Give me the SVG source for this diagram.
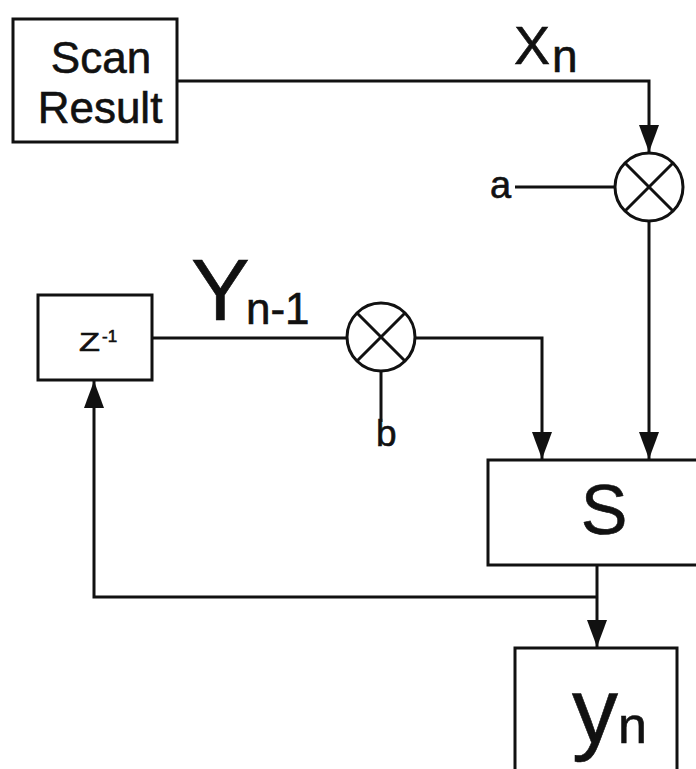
<svg xmlns="http://www.w3.org/2000/svg" width="696" height="769" viewBox="0 0 696 769">
<style>
.box{fill:#fff;stroke:#111;stroke-width:3}
.ln{fill:none;stroke:#111;stroke-width:3}
.t{font-family:"Liberation Sans",Arial,sans-serif;fill:#111;stroke:#111;stroke-width:0.6}
</style>
<defs>
<marker id="ar" markerUnits="userSpaceOnUse" markerWidth="28" markerHeight="22" refX="27" refY="10" orient="auto" viewBox="0 0 28 20">
<path d="M0,0 L27,10 L0,20 z" fill="#111"/>
</marker>
</defs>
<rect width="696" height="769" fill="#fff"/>
<g id="connectors">
<polyline class="ln" points="177,81 649,81 649,152" marker-end="url(#ar)"/>
<line class="ln" x1="515" y1="187" x2="615" y2="187"/>
<line class="ln" x1="649" y1="221" x2="649" y2="459" marker-end="url(#ar)"/>
<line class="ln" x1="152" y1="338" x2="347" y2="338"/>
<polyline class="ln" points="415,338 542,338 542,459" marker-end="url(#ar)"/>
<line class="ln" x1="381" y1="371" x2="381" y2="422"/>
<line class="ln" x1="597" y1="565" x2="597" y2="647" marker-end="url(#ar)"/>
<polyline class="ln" points="597,597 94,597 94,381" marker-end="url(#ar)"/>
</g>
<g id="scan">
<rect class="box" x="13" y="19" width="164" height="123"/>
<text class="t" x="101" y="73" font-size="44" text-anchor="middle">Scan</text>
<text class="t" x="100" y="123" font-size="44" text-anchor="middle">Result</text>
</g>
<g id="xn-label">
<text class="t" x="514" y="64" font-size="54">X</text>
<text class="t" x="552" y="72" font-size="46">n</text>
</g>
<g id="mult1">
<circle class="ln" cx="649" cy="187" r="34"/>
<line class="ln" x1="625" y1="163" x2="673" y2="211"/>
<line class="ln" x1="673" y1="163" x2="625" y2="211"/>
</g>
<g id="a-label"><text class="t" x="490" y="198" font-size="38">a</text></g>
<g id="z">
<rect class="box" x="38" y="295" width="114" height="85"/>
<text class="t" x="79" y="351" font-size="25" textLength="21" lengthAdjust="spacingAndGlyphs">Z</text>
<text class="t" x="102" y="342" font-size="17" stroke-width="0.3">-1</text>
</g>
<g id="yn1-label">
<text class="t" x="191" y="320" font-size="88">Y</text>
<text class="t" x="246" y="324" font-size="44">n-1</text>
</g>
<g id="mult2">
<circle class="ln" cx="381" cy="337" r="34"/>
<line class="ln" x1="357" y1="313" x2="405" y2="361"/>
<line class="ln" x1="405" y1="313" x2="357" y2="361"/>
</g>
<g id="b-label"><text class="t" x="376" y="446" font-size="37">b</text></g>
<g id="s">
<rect class="box" x="488" y="460" width="230" height="105"/>
<text class="t" x="604" y="534" font-size="70" text-anchor="middle">S</text>
</g>
<g id="yn">
<rect class="box" x="515" y="648" width="162" height="140"/>
<text class="t" x="572" y="743" font-size="92">y</text>
<text class="t" x="618" y="743" font-size="52">n</text>
</g>
</svg>
